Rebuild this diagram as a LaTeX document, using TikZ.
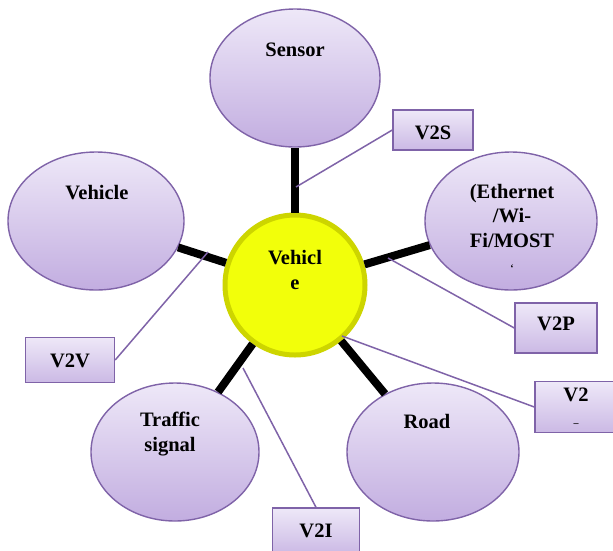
\documentclass[tikz,border=0pt]{standalone}
\usepackage{fontspec}
\setmainfont{Liberation Serif}
\usetikzlibrary{shapes.geometric}
\definecolor{lilacedge}{HTML}{7F63A8}
\definecolor{lilactop}{HTML}{EEE8F8}
\definecolor{lilacbot}{HTML}{C2ADE0}
\definecolor{hubfill}{HTML}{F2FF0A}
\definecolor{hubedge}{HTML}{CDD500}
\tikzset{
  bubble/.style={ellipse, draw=lilacedge, line width=1.4pt, top color=lilactop,
    bottom color=lilacbot, minimum width=170pt, minimum height=138pt, inner sep=0pt},
  tagbox/.style={rectangle, draw=lilacedge, line width=1.4pt, top color=lilactop,
    bottom color=lilacbot!85, inner sep=0pt},
  lbl/.style={font=\fontsize{20.5}{24.5}\selectfont\bfseries, align=center, inner sep=0pt},
  spoke/.style={line width=8pt, black},
  lead/.style={line width=1.5pt, lilacedge}
}
\begin{document}
\begin{tikzpicture}[x=1pt,y=-1pt]
\useasboundingbox (0,0) rectangle (613,550);
% outer bubbles
\node[bubble] (sensor) at (295,78) {};
\node[bubble, minimum width=176pt] (vehicle) at (96,221) {};
\node[bubble, minimum width=172pt] (ether) at (511,221) {};
\node[bubble, minimum width=168pt] (traffic) at (175,452) {};
\node[bubble, minimum width=172pt] (road) at (433,452) {};
% centre
\node[circle, fill=hubfill, draw=hubedge, line width=5pt, minimum size=140pt] (hub) at (295,285) {};
% spokes
\draw[spoke] (hub) -- (sensor);
\draw[spoke] (hub) -- (vehicle);
\draw[spoke] (hub) -- (ether);
\draw[spoke] (hub) -- (traffic);
\draw[spoke] (hub) -- (road);
% texts
\node[lbl] (sensortxt) at (295,50) {Sensor};
\node[lbl] (vehicletxt) at (97,193) {Vehicle};
\node[lbl] (ethertxt) at (512,228) {(Ethernet\\/Wi-\\Fi/MOST\\{\fontsize{10}{10}\selectfont `}};
\node[lbl] (traffictxt) at (170,434) {Traffic\\signal};
\node[lbl] (roadtxt) at (427,421) {Road};
\node[lbl, text=black] (hubtxt) at (295,270) {Vehicl\\e};
% tags
\node[tagbox, minimum width=80pt, minimum height=40pt] (v2s) at (433,130) {};
\node[lbl] (v2stxt) at (433,133) {V2S};
\node[tagbox, minimum width=89pt, minimum height=45pt] (v2v) at (70,360) {};
\node[lbl] (v2vtxt) at (70,361) {V2V};
\node[tagbox, minimum width=82pt, minimum height=50pt] (v2p) at (556,328) {};
\node[lbl] (v2ptxt) at (556,324) {V2P};
\node[tagbox, minimum width=86pt, minimum height=51pt] (v2r) at (578,407) {};
\node[lbl] (v2rtxt) at (576,407) {V2\\{\fontsize{10}{10}\selectfont --}};
\node[tagbox, minimum width=87pt, minimum height=46pt] (v2i) at (316,531) {};
\node[lbl] (v2itxt) at (316,531) {V2I};
% leader lines
\coordinate (onsensor) at (296,187);
\coordinate (onvehicle) at (208,252);
\coordinate (onether) at (388,258);
\coordinate (onroad) at (342,336);
\coordinate (ontraffic) at (243,368);
\draw[lead] (v2s.west) -- (onsensor);
\draw[lead] (v2v.east) -- (onvehicle);
\draw[lead] (v2p.west) -- (onether);
\draw[lead] (v2r.west) -- (onroad);
\draw[lead] (v2i.north) -- (ontraffic);
\end{tikzpicture}
\end{document}
